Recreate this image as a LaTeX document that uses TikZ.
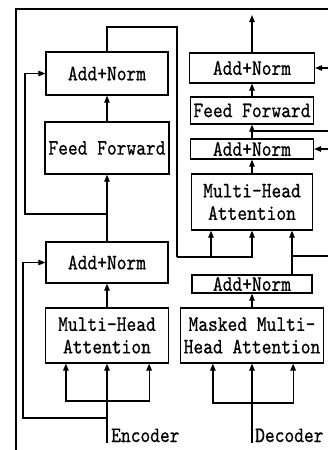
\documentclass[tikz,border=0pt]{standalone}
\usepackage{fontspec}
\newfontfamily\dgmono{lmmono10-regular.otf}[FakeStretch=0.845, FakeBold=0.6]
\newcommand{\dgfont}{\dgmono\fontsize{22pt}{22.5pt}\selectfont}
\usetikzlibrary{arrows.meta}

\begin{document}
\begin{tikzpicture}[x=1pt, y=-1pt,
  box/.style={draw, line width=1.25pt, inner sep=0pt, font=\dgfont, align=center},
  link/.style={line width=1.25pt},
  arr/.style={link, -{Triangle[length=7pt, width=5.5pt]}},
  tag/.style={font=\dgfont, anchor=base west, inner sep=0pt},
]
\useasboundingbox (0,0) rectangle (328,450);
\clip (0,0) rectangle (328,450);

% outer frame
\coordinate (fb) at (16,456);
\coordinate (fc) at (16,9);
\coordinate (fr) at (340,9);
\draw[line width=1.4pt] (fb) -- (fc) -- (fr);

% ---------- encoder ----------
\node[box, minimum width=122pt, minimum height=43pt] (eAN2) at (107,73.5) {Add+Norm};
\node[box, minimum width=124pt, minimum height=52pt] (eFF)  at (107,148)  {Feed Forward};
\node[box, minimum width=122pt, minimum height=41pt] (eAN1) at (107,262.5) {Add+Norm};
\node[box, minimum width=123pt, minimum height=55pt] (eMHA) at (107,335.5) {Multi-Head\\Attention};

\coordinate (ein)    at (107,443);
\coordinate (esplit) at (107,401);
\coordinate (eres1)  at (107,418);
\coordinate (eloop1) at (23,418);
\coordinate (eres2)  at (107,214);
\coordinate (eloop2) at (25,214);
\coordinate (ebend)  at (177,27);
\coordinate (ebus)   at (177,257);
\coordinate (dq1)    at (211,257);

\node[tag] (elabel) at (111,442) {Encoder};

\draw[arr] (ein) -- (eMHA.south);
\draw[arr] (esplit) -| ([xshift=21pt]eMHA.south west);
\draw[arr] (esplit) -| ([xshift=-20pt]eMHA.south east);
\draw[arr] (eres1) -- (eloop1) |- (eAN1.west);
\draw[arr] (eMHA) -- (eAN1);
\draw[arr] (eAN1) -- (eFF);
\draw[arr] (eres2) -- (eloop2) |- (eAN2.west);
\draw[arr] (eFF) -- (eAN2);
\draw[link] (eAN2.north) |- (ebend) -- (ebus);

% ---------- decoder ----------
\node[box, minimum width=125pt, minimum height=30pt] (dAN3)  at (252,68)    {Add+Norm};
\node[box, minimum width=123pt, minimum height=27pt] (dFF)   at (252,110.5) {Feed Forward};
\node[box, minimum width=123pt, minimum height=20pt] (dAN2)  at (252,149)   {Add+Norm};
\node[box, minimum width=121pt, minimum height=56pt] (dMHA)  at (252,202)   {Multi-Head\\Attention};
\node[box, minimum width=120pt, minimum height=18pt] (dAN1)  at (252,284)   {Add+Norm};
\node[box, minimum width=143pt, minimum height=55pt] (dMMHA) at (252,335.5) {Masked Multi-\\Head Attention};

\coordinate (din)      at (252,443);
\coordinate (dsplit)   at (252,403);
\coordinate (dkv)      at (292,256);
\coordinate (dres1)    at (340,256);
\coordinate (dres2src) at (252,131);
\coordinate (dres2)    at (340,131);
\coordinate (dr3)      at (340,68);
\coordinate (dr2)      at (340,149);
\coordinate (dout)     at (252,15);

\node[tag] (dlabel) at (255,442) {Decoder};

\draw[arr] (din) -- (dMMHA.south);
\draw[arr] (dsplit) -| ([xshift=33pt]dMMHA.south west);
\draw[arr] (dsplit) -| ([xshift=-31pt]dMMHA.south east);
\draw[arr] (dMMHA) -- (dAN1);
\draw[arr] (dAN1.north -| dkv) -- (dMHA.south -| dkv);
\draw[link] (dkv) -- (dres1);
\draw[arr] (ebus) -| (dMHA.south -| dq1);
\draw[arr] (ebus) -| (dMHA.south);
\draw[arr] (dMHA) -- (dAN2);
\draw[arr] (dAN2) -- (dFF);
\draw[link] (dres2src) -- (dres2);
\draw[arr] (dFF) -- (dAN3);
\draw[arr] (dAN3) -- (dout);
\draw[arr] (dr3) -- (dAN3.east);
\draw[arr] (dr2) -- (dAN2.east);
\end{tikzpicture}
\end{document}
